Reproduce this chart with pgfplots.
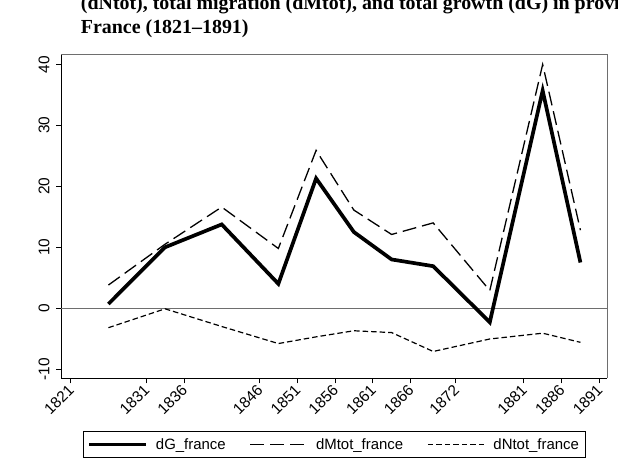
\documentclass[border=0pt]{standalone}
\usepackage{fontspec}
\setmainfont{Liberation Sans}
\newfontfamily\titlefont{Liberation Serif}
\usepackage{pgfplots}
\pgfplotsset{compat=1.18}
\definecolor{framegray}{RGB}{110,110,110}
\begin{document}
\begin{tikzpicture}[x=1bp,y=1bp]
\node[anchor=base west, inner sep=0, font=\titlefont\bfseries\fontsize{20}{24}\selectfont] at (80.7,454) {(dNtot), total migration (dMtot), and total growth (dG) in provincial};
\node[anchor=base west, inner sep=0, font=\titlefont\bfseries\fontsize{20}{24}\selectfont] at (80.7,430.5) {France (1821–1891)};
\begin{axis}[
  at={(61bp,85.7bp)}, anchor=south west,
  scale only axis, width=546.3bp, height=323.6bp,
  xmin=1819.72, xmax=1892.06, ymin=-11.5, ymax=41.6,
  axis lines*=left,
  axis line style={black, line width=1bp},
  tick align=outside, major tick length=5bp,
  tick style={black, line width=0.8bp},
  xtick={1821,1831,1836,1846,1851,1856,1861,1866,1872,1881,1886,1891},
  xticklabels={1821,1831,1836,1846,1851,1856,1861,1866,1872,1881,1886,1891},
  ytick={-10,0,10,20,30,40},
  yticklabels={-10,0,10,20,30,40},
  xticklabel style={xshift=3bp, yshift=-1.5bp, rotate=45, anchor=east, font=\fontsize{15.5}{15.5}\selectfont},
  yticklabel style={rotate=90, anchor=south, font=\fontsize{15.5}{15.5}\selectfont},
  yticklabel shift=3bp,
  extra y ticks={0}, extra y tick labels={},
  extra y tick style={grid=major, major grid style={draw=framegray, line width=0.8bp}, major tick length=0pt},
  legend columns=3,
  legend style={at={(0.5,-0.163)}, anchor=north, draw=black, line width=0.8bp,
    font=\fontsize{15}{15}\selectfont, inner xsep=4bp, inner ysep=5bp,
    /tikz/every odd column/.append style={column sep=6bp},
    /tikz/every even column/.append style={column sep=22bp}},
  legend image code/.code={\draw[#1] (0bp,0bp) -- (57bp,0bp);},
  clip=false,
]
\addplot[black, line width=3.7bp, line join=miter] coordinates {
(1826,0.7) (1833.5,10.0) (1841,13.75) (1848.5,4.0) (1853.5,21.3) (1858.5,12.5)
(1863.5,8.0) (1869,6.9) (1876.5,-2.3) (1883.5,35.7) (1888.5,7.5)};
\addlegendentry{dG\_france}
\addplot[black, line width=1.3bp, dash pattern=on 14bp off 6bp] coordinates {
(1826,3.8) (1833.5,10.5) (1841,16.6) (1848.5,9.8) (1853.5,25.9) (1858.5,16.1)
(1863.5,12.1) (1869,14.0) (1876.5,2.9) (1883.5,40.0) (1888.5,12.8)};
\addlegendentry{dMtot\_france}
\addplot[black, line width=1.2bp, dash pattern=on 5.5bp off 3bp] coordinates {
(1826,-3.2) (1833.5,-0.1) (1841,-3.0) (1848.5,-5.8) (1853.5,-4.7) (1858.5,-3.7)
(1863.5,-4.0) (1869,-7.1) (1876.5,-5.05) (1883.5,-4.1) (1888.5,-5.6)};
\addlegendentry{dNtot\_france}
\draw[framegray, line width=0.8bp] (rel axis cs:0,1) -- (rel axis cs:1,1) -- (rel axis cs:1,0);
\end{axis}
\pgfresetboundingbox
\useasboundingbox (0,0) rectangle (618,464);
\end{tikzpicture}
\end{document}
